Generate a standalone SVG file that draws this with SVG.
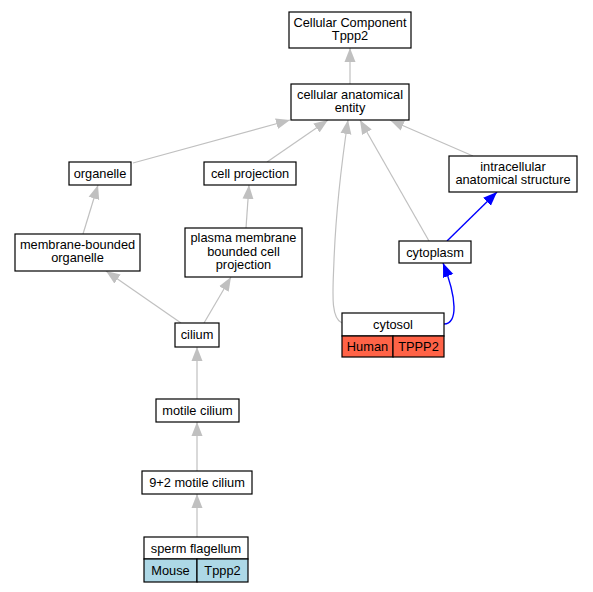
<svg xmlns="http://www.w3.org/2000/svg" width="593" height="592" viewBox="0 0 593 592">
<style>
.box{fill:#fff;stroke:#000;stroke-width:1.2}
.t{font-family:"Liberation Sans",Arial,sans-serif;font-size:12.8px;fill:#000;text-anchor:middle}
.e{fill:none;stroke:#c0c0c0;stroke-width:1.2}
.b{fill:none;stroke:#0000ff;stroke-width:1.4}
.hu{fill:#ff6347;stroke:#000;stroke-width:1.2}
.mo{fill:#add8e6;stroke:#000;stroke-width:1.2}
</style>
<defs>
<marker id="ag" viewBox="-14 -6 14 12" markerWidth="14" markerHeight="12" refX="0" refY="0" markerUnits="userSpaceOnUse" orient="auto"><path d="M0,0 L-14,-5.5 L-14,5.5 Z" fill="#c0c0c0"/></marker>
<marker id="ab" viewBox="-14 -6 14 12" markerWidth="14" markerHeight="12" refX="0" refY="0" markerUnits="userSpaceOnUse" orient="auto"><path d="M0,0 L-14,-5.5 L-14,5.5 Z" fill="#0000ff"/></marker>
</defs>
<rect width="593" height="592" fill="#fff"/>
<g id="edges">
<path class="e" marker-end="url(#ag)" d="M350,84 L350,48"/>
<path class="e" marker-end="url(#ag)" d="M133,163 L290,120"/>
<path class="e" marker-end="url(#ag)" d="M267,162 L328,120"/>
<path class="e" marker-end="url(#ag)" d="M342,323 C330,318 333,290 334,260 C336,210 342,160 348,120"/>
<path class="e" marker-end="url(#ag)" d="M429,241 L360,120"/>
<path class="e" marker-end="url(#ag)" d="M473,156 L390,120"/>
<path class="b" marker-end="url(#ab)" d="M447,241 L497,192"/>
<path class="b" marker-end="url(#ab)" d="M444,324 C458,324 457,298 443,263"/>
<path class="e" marker-end="url(#ag)" d="M83,234 L98,185"/>
<path class="e" marker-end="url(#ag)" d="M246,228 L249,185"/>
<path class="e" marker-end="url(#ag)" d="M181,323 L106,271"/>
<path class="e" marker-end="url(#ag)" d="M204,323 L231,277"/>
<path class="e" marker-end="url(#ag)" d="M197,399 L197,347"/>
<path class="e" marker-end="url(#ag)" d="M197,471 L197,422"/>
<path class="e" marker-end="url(#ag)" d="M197,537 L197,494"/>
</g>
<g id="cc"><rect class="box" x="289" y="12" width="122" height="36"/><text class="t" x="350" y="26.5">Cellular Component</text><text class="t" x="350" y="40">Tppp2</text></g>
<g id="cae"><rect class="box" x="291" y="84" width="118" height="36"/><text class="t" x="350" y="98.5">cellular anatomical</text><text class="t" x="350" y="112">entity</text></g>
<g id="ias"><rect class="box" x="449" y="156" width="128" height="36"/><text class="t" x="513" y="170.5">intracellular</text><text class="t" x="513" y="184">anatomical structure</text></g>
<g id="organelle"><rect class="box" x="69" y="162" width="62" height="23"/><text class="t" x="100" y="177.5">organelle</text></g>
<g id="cellproj"><rect class="box" x="204" y="162" width="92" height="23"/><text class="t" x="250" y="177.5">cell projection</text></g>
<g id="mbo"><rect class="box" x="15" y="234" width="125" height="37"/><text class="t" x="77.5" y="248.5">membrane-bounded</text><text class="t" x="77.5" y="262">organelle</text></g>
<g id="pmbcp"><rect class="box" x="185" y="228" width="117" height="49"/><text class="t" x="243.5" y="242">plasma membrane</text><text class="t" x="243.5" y="255.5">bounded cell</text><text class="t" x="243.5" y="269">projection</text></g>
<g id="cilium"><rect class="box" x="175" y="323" width="44" height="24"/><text class="t" x="197" y="339">cilium</text></g>
<g id="cytoplasm"><rect class="box" x="399" y="241" width="72" height="22"/><text class="t" x="435" y="256.5">cytoplasm</text></g>
<g id="cytosol"><rect class="box" x="342" y="313" width="102" height="23"/><text class="t" x="393" y="328.5">cytosol</text><rect class="hu" x="342" y="336" width="51" height="21"/><rect class="hu" x="393" y="336" width="51" height="21"/><text class="t" x="367.5" y="351">Human</text><text class="t" x="418.5" y="351">TPPP2</text></g>
<g id="motile"><rect class="box" x="156" y="399" width="83" height="23"/><text class="t" x="197.5" y="414.5">motile cilium</text></g>
<g id="ninetwo"><rect class="box" x="142" y="471" width="110" height="23"/><text class="t" x="197" y="486.5">9+2 motile cilium</text></g>
<g id="sperm"><rect class="box" x="144" y="537" width="104" height="22"/><text class="t" x="196" y="552.5">sperm flagellum</text><rect class="mo" x="144" y="559" width="53" height="23"/><rect class="mo" x="197" y="559" width="51" height="23"/><text class="t" x="170.5" y="574.5">Mouse</text><text class="t" x="222.5" y="574.5">Tppp2</text></g>
</svg>
